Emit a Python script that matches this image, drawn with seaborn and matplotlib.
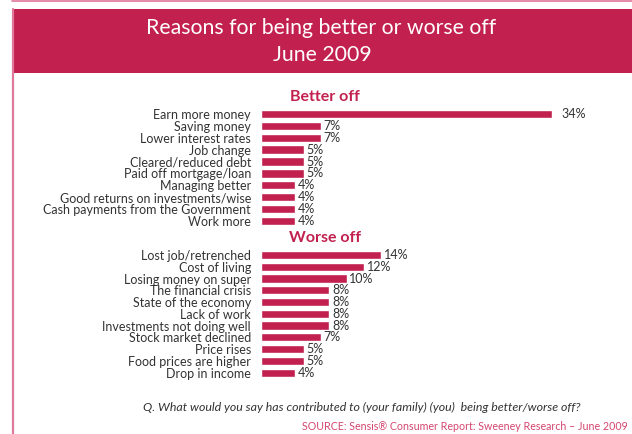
import matplotlib
matplotlib.use("Agg")
import matplotlib.pyplot as plt
import seaborn as sns
import pandas as pd
from matplotlib.patches import Rectangle
from matplotlib.lines import Line2D

better_labels = ["Earn more money", "Saving money", "Lower interest rates", "Job change",
                 "Cleared/reduced debt", "Paid off mortgage/loan", "Managing better",
                 "Good returns on investments/wise", "Cash payments from the Government",
                 "Work more"]
better_values = [34, 7, 7, 5, 5, 5, 4, 4, 4, 4]

worse_labels = ["Lost job/retrenched", "Cost of living", "Losing money on super",
                "The financial crisis", "State of the economy", "Lack of work",
                "Investments not doing well", "Stock market declined", "Price rises",
                "Food prices are higher", "Drop in income"]
worse_values = [14, 12, 10, 8, 8, 8, 8, 7, 5, 5, 4]

title_lines = ["Reasons for being better or worse off", "June 2009"]
section_titles = ["Better off", "Worse off"]
question = "Q. What would you say has contributed to (your family) (you)  being better/worse off?"
source = "SOURCE: Sensis\u00ae Consumer Report: Sweeney Research \u2013 June 2009"

RED = "#C2214F"
PINK = "#E0789C"
TXT = "#333333"

sns.set_style("white")
plt.rcParams["font.family"] = ["Lato", "DejaVu Sans"]

W, H = 632, 434
fig = plt.figure(figsize=(W / 100, H / 100), dpi=100)

def fx(px):
    return px / W

def fy(py):
    return 1 - py / H

# frame decorations
fig.add_artist(Line2D([fx(12), 1], [fy(0.7), fy(0.7)], color=PINK, lw=1.2))
fig.add_artist(Line2D([fx(12.5), fx(12.5)], [fy(9), 0], color=PINK, lw=1.6))
fig.add_artist(Rectangle((fx(11.5), fy(72.5)), 1 - fx(11.5), (72.5 - 9) / H,
                         transform=fig.transFigure, color=RED, lw=0))
fig.text(fx(321), fy(28), title_lines[0], ha="center", va="center", color="white", fontsize=15.3)
fig.text(fx(322), fy(55), title_lines[1], ha="center", va="center", color="white", fontsize=15.3)

px_per = 8.56
x_left = 261
xmax = 40

def make_panel(labels, values, top_px, row_px, header):
    n = len(labels)
    bottom_px = top_px + n * row_px
    ax = fig.add_axes([fx(x_left), fy(bottom_px), xmax * px_per / W, (bottom_px - top_px) / H])
    df = pd.DataFrame({"label": labels, "value": values})
    sns.barplot(data=df, x="value", y="label", orient="h", color=RED, saturation=1,
                width=0.7, ax=ax)
    ax.set_xlim(0, xmax)
    ax.set_xlabel("")
    ax.set_ylabel("")
    ax.set_xticks([])
    for s in ax.spines.values():
        s.set_visible(False)
    ax.tick_params(axis="y", length=0, pad=7.2, labelsize=9, labelcolor=TXT)
    vmax = max(values)
    for i, v in enumerate(values):
        pad = 7 if v == vmax and v > 20 else 2
        ax.annotate(f"{v}%", xy=(v, i), xytext=(pad, 0), textcoords="offset points",
                    ha="left", va="center", fontsize=9, color=TXT)
    ax.set_facecolor("none")
    fig.text(fx(325), fy(top_px - 11), header, ha="center", va="center",
             color=RED, fontsize=11.5, fontweight="bold")
    return ax

make_panel(better_labels, better_values, 108.1, 11.87, section_titles[0])
make_panel(worse_labels, worse_values, 249.1, 11.77, section_titles[1])

fig.text(fx(361.5), fy(407), question, ha="center", va="center", color=TXT,
         fontsize=8.95, style="italic")
fig.text(fx(628), fy(427), source, ha="right", va="center", color="#D4456F", fontsize=7.7)

fig.savefig("out.png", dpi=100)
